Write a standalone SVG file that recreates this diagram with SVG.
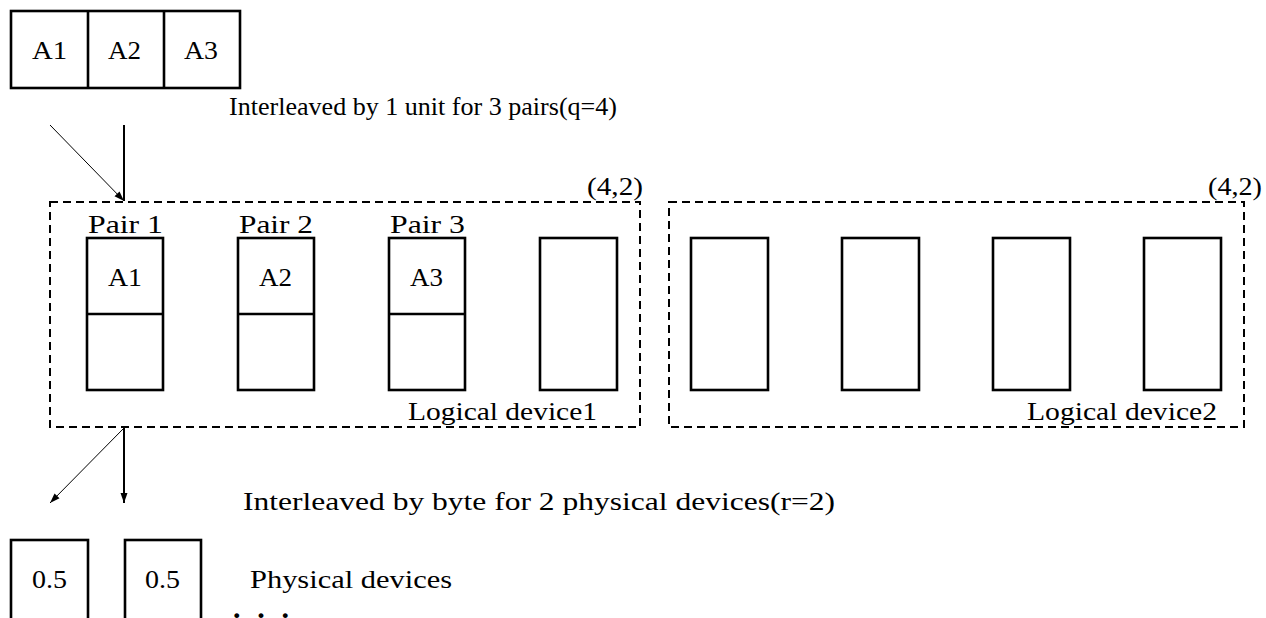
<svg xmlns="http://www.w3.org/2000/svg" width="1266" height="618" viewBox="0 0 1266 618">
  <style>
    text { font-family: "Liberation Serif", "Times New Roman", serif; font-size: 26px; fill: #000; }
    .box { fill: none; stroke: #000; stroke-width: 2.6; }
    .group { fill: none; stroke: #000; stroke-width: 2; stroke-dasharray: 8 5; }
    .thick { stroke: #000; stroke-width: 2; fill: none; }
    .thin { stroke: #000; stroke-width: 1; fill: none; }
    .dots { font-size: 30px; font-weight: bold; }
  </style>
  <defs>
    <marker id="head" viewBox="0 0 10 10" refX="10" refY="5" markerWidth="10" markerHeight="10" markerUnits="userSpaceOnUse" orient="auto">
      <path d="M0,1.5 L10,5 L0,8.5 z" fill="#000"/>
    </marker>
  </defs>

  <rect width="1266" height="618" fill="#fff"/>

  <!-- data units to be distributed -->
  <g id="units">
    <rect class="box" x="11" y="11" width="229" height="77"/>
    <line class="box" x1="88" y1="11" x2="88" y2="88"/>
    <line class="box" x1="164" y1="11" x2="164" y2="88"/>
    <text x="32" y="59" textLength="35" lengthAdjust="spacingAndGlyphs">A1</text>
    <text x="108" y="59" textLength="33" lengthAdjust="spacingAndGlyphs">A2</text>
    <text x="184" y="59" textLength="34" lengthAdjust="spacingAndGlyphs">A3</text>
  </g>

  <!-- logical device 1 -->
  <g id="logical1">
    <rect class="group" x="50" y="202" width="590" height="225"/>
    <text x="587" y="195" textLength="56" lengthAdjust="spacingAndGlyphs">(4,2)</text>
    <text x="408" y="420" textLength="189" lengthAdjust="spacingAndGlyphs">Logical device1</text>
  </g>
  <g id="pair1">
    <rect class="box" x="87" y="238" width="76" height="152"/>
    <line class="box" x1="87" y1="314" x2="163" y2="314"/>
    <text x="88" y="233" textLength="75" lengthAdjust="spacingAndGlyphs">Pair 1</text>
    <text x="108" y="286" textLength="34" lengthAdjust="spacingAndGlyphs">A1</text>
  </g>
  <g id="pair2">
    <rect class="box" x="238" y="238" width="76" height="152"/>
    <line class="box" x1="238" y1="314" x2="314" y2="314"/>
    <text x="239" y="233" textLength="74" lengthAdjust="spacingAndGlyphs">Pair 2</text>
    <text x="259" y="286" textLength="33" lengthAdjust="spacingAndGlyphs">A2</text>
  </g>
  <g id="pair3">
    <rect class="box" x="389" y="238" width="76" height="152"/>
    <line class="box" x1="389" y1="314" x2="465" y2="314"/>
    <text x="390" y="233" textLength="75" lengthAdjust="spacingAndGlyphs">Pair 3</text>
    <text x="410" y="286" textLength="33" lengthAdjust="spacingAndGlyphs">A3</text>
  </g>
  <g id="pair4">
    <rect class="box" x="540" y="238" width="77" height="152"/>
  </g>

  <!-- logical device 2 -->
  <g id="logical2">
    <rect class="group" x="669" y="202" width="575" height="225"/>
    <text x="1208" y="195" textLength="54" lengthAdjust="spacingAndGlyphs">(4,2)</text>
    <text x="1027" y="420" textLength="190" lengthAdjust="spacingAndGlyphs">Logical device2</text>
    <rect class="box" x="691" y="238" width="77" height="152"/>
    <rect class="box" x="842" y="238" width="77" height="152"/>
    <rect class="box" x="993" y="238" width="77" height="152"/>
    <rect class="box" x="1144" y="238" width="77" height="152"/>
  </g>

  <!-- physical devices -->
  <g id="physical">
    <rect class="box" x="11" y="540" width="77" height="80"/>
    <rect class="box" x="125" y="540" width="76" height="80"/>
    <text x="32" y="588" textLength="35" lengthAdjust="spacingAndGlyphs">0.5</text>
    <text x="145" y="588" textLength="35" lengthAdjust="spacingAndGlyphs">0.5</text>
    <text x="250" y="588" textLength="202" lengthAdjust="spacingAndGlyphs">Physical devices</text>
    <text class="dots" x="233" y="618" textLength="56" lengthAdjust="spacing">...</text>
  </g>

  <!-- captions -->
  <g id="captions">
    <text x="229" y="115" textLength="388" lengthAdjust="spacingAndGlyphs">Interleaved by 1 unit for 3 pairs(q=4)</text>
    <text x="243" y="510" textLength="592" lengthAdjust="spacingAndGlyphs">Interleaved by byte for 2 physical devices(r=2)</text>
  </g>

  <!-- connectors -->
  <g id="connectors">
    <line class="thick" x1="124" y1="125" x2="124" y2="201"/>
    <line class="thin" x1="50" y1="125" x2="124" y2="201" marker-end="url(#head)"/>
    <line class="thick" x1="124" y1="428" x2="124" y2="503" marker-end="url(#head)"/>
    <line class="thin" x1="124" y1="428" x2="50" y2="503" marker-end="url(#head)"/>
  </g>
</svg>
